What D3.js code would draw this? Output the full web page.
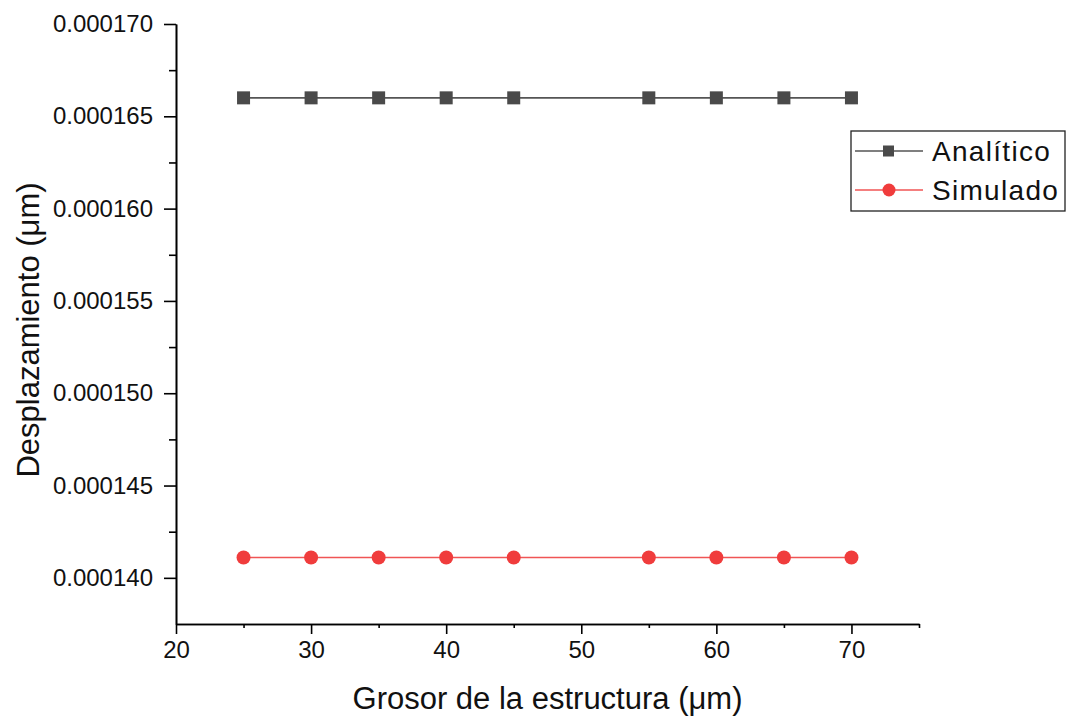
<!DOCTYPE html>
<html>
<head>
<meta charset="utf-8">
<script src="https://cdn.jsdelivr.net/npm/d3@7"></script>
<style>
  html, body { margin: 0; padding: 0; background: #fff; }
  svg { display: block; font-family: "Liberation Sans", Arial, sans-serif; }
</style>
</head>
<body>
<svg id="chart" width="1067" height="721"></svg>
<script>
// Thickness values (μm)
const thickness = [25, 30, 35, 40, 45, 55, 60, 65, 70];
// Displacement series (μm)
const analitico = [0.000166, 0.000166, 0.000166, 0.000166, 0.000166, 0.000166, 0.000166, 0.000166, 0.000166];
const simulado  = [0.0001411, 0.0001411, 0.0001411, 0.0001411, 0.0001411, 0.0001411, 0.0001411, 0.0001411, 0.0001411];
const seriesNames = ["Analítico", "Simulado"];
const xTicks = [20, 30, 40, 50, 60, 70];
const xMinorTicks = [25, 35, 45, 55, 65, 75];
const yTicks = [0.000140, 0.000145, 0.000150, 0.000155, 0.000160, 0.000165, 0.000170];
const yMinorTicks = [0.0001425, 0.0001475, 0.0001525, 0.0001575, 0.0001625, 0.0001675];

const svg = d3.select("#chart");
const margin = { left: 176, right: 148, top: 24, bottom: 97 };
const W = 1067, H = 721;

const x = d3.scaleLinear().domain([20, 75]).range([margin.left, W - margin.right]);
const y = d3.scaleLinear().domain([0.0001375, 0.000170]).range([H - margin.bottom, margin.top]);

// Axes
const xAxis = svg.append("g").attr("transform", `translate(0,${H - margin.bottom})`)
  .call(d3.axisBottom(x).tickValues(xTicks).tickFormat(d3.format("d")).tickSize(10).tickSizeOuter(0));
const xMinor = svg.append("g").attr("transform", `translate(0,${H - margin.bottom})`)
  .call(d3.axisBottom(x).tickValues(xMinorTicks).tickFormat("").tickSize(4).tickSizeOuter(0));
const yAxis = svg.append("g").attr("transform", `translate(${margin.left},0)`)
  .call(d3.axisLeft(y).tickValues(yTicks).tickFormat(d3.format(".6f")).tickSize(12).tickSizeOuter(0));
const yMinor = svg.append("g").attr("transform", `translate(${margin.left},0)`)
  .call(d3.axisLeft(y).tickValues(yMinorTicks).tickFormat("").tickSize(7).tickSizeOuter(0));

[xAxis, xMinor, yAxis, yMinor].forEach(g => {
  g.selectAll("path.domain").attr("stroke", "#000").attr("stroke-width", 1.6);
  g.selectAll(".tick line").attr("stroke", "#000").attr("stroke-width", 1.6);
  g.selectAll(".tick text").attr("fill", "#111").style("font-size", "24px")
    .style("font-family", "'Liberation Sans', Arial, sans-serif");
});
xAxis.selectAll(".tick text").attr("y", 17).attr("dy", "0.71em");
yAxis.selectAll(".tick text").attr("x", -23);

// Axis titles
svg.append("text").attr("x", (x(20) + x(75)) / 2).attr("y", 709)
  .attr("text-anchor", "middle").style("font-size", "31px").attr("fill", "#111")
  .text("Grosor de la estructura (μm)");
svg.append("text").attr("transform", `translate(39,${(y.range()[0] + y.range()[1]) / 2 + 6}) rotate(-90)`)
  .attr("text-anchor", "middle").style("font-size", "31px").attr("fill", "#111")
  .text("Desplazamiento (μm)");

const line = d3.line().x(d => x(d[0])).y(d => y(d[1]));

// Analítico: gray line with squares
const aData = thickness.map((t, i) => [t, analitico[i]]);
svg.append("path").datum(aData).attr("d", line).attr("fill", "none")
  .attr("stroke", "#555").attr("stroke-width", 1.6);
svg.selectAll("rect.a").data(aData).enter().append("rect")
  .attr("x", d => x(d[0]) - 6.5).attr("y", d => y(d[1]) - 6.5)
  .attr("width", 13).attr("height", 13).attr("fill", "#4a4a4a");

// Simulado: red line with circles
const sData = thickness.map((t, i) => [t, simulado[i]]);
svg.append("path").datum(sData).attr("d", line).attr("fill", "none")
  .attr("stroke", "#f05555").attr("stroke-width", 1.6);
svg.selectAll("circle.s").data(sData).enter().append("circle")
  .attr("cx", d => x(d[0])).attr("cy", d => y(d[1])).attr("r", 7)
  .attr("fill", "#f03c3c");

// Legend
const lg = svg.append("g");
lg.append("rect").attr("x", 851).attr("y", 131).attr("width", 214).attr("height", 80)
  .attr("fill", "#fff").attr("stroke", "#222").attr("stroke-width", 1.3);
const rows = [
  { name: seriesNames[0], color: "#555", fill: "#4a4a4a", shape: "square", yy: 151 },
  { name: seriesNames[1], color: "#f05555", fill: "#f03c3c", shape: "circle", yy: 190 }
];
rows.forEach(r => {
  lg.append("line").attr("x1", 855).attr("x2", 923).attr("y1", r.yy).attr("y2", r.yy)
    .attr("stroke", r.color).attr("stroke-width", 1.6);
  if (r.shape === "square") {
    lg.append("rect").attr("x", 883).attr("y", r.yy - 5.5).attr("width", 11).attr("height", 11).attr("fill", r.fill);
  } else {
    lg.append("circle").attr("cx", 889).attr("cy", r.yy).attr("r", 6.5).attr("fill", r.fill);
  }
  lg.append("text").attr("x", 932).attr("y", r.yy + 10).style("font-size", "28px")
    .style("letter-spacing", "1.3px").attr("fill", "#111").text(r.name);
});
</script>
</body>
</html>
